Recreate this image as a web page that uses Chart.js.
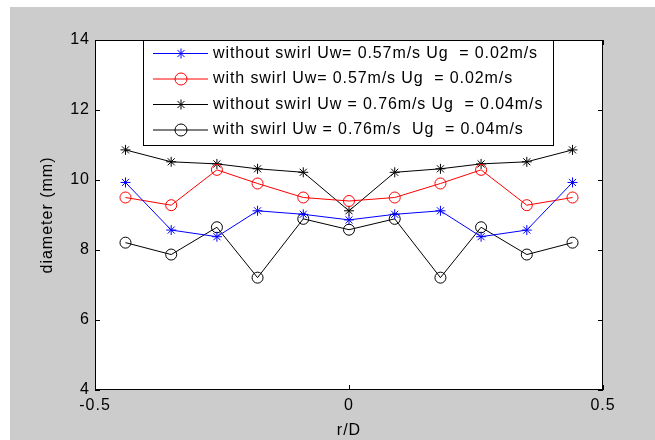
<!DOCTYPE html>
<html>
<head>
<meta charset="utf-8">
<script src="https://cdn.jsdelivr.net/npm/chart.js@4/dist/chart.umd.min.js"></script>
<style>
  html, body { margin: 0; padding: 0; background: #ffffff; }
  canvas { display: block; }
</style>
</head>
<body>
<canvas id="c" width="655" height="440"></canvas>
<script>
// ---- data ----
const rD = [-0.44, -0.35, -0.26, -0.18, -0.09, 0, 0.09, 0.18, 0.26, 0.35, 0.44];
const noSwirl057 = [9.93, 8.57, 8.38, 9.12, 9.02, 8.86, 9.02, 9.12, 8.38, 8.57, 9.93];
const swirl057   = [9.50, 9.28, 10.29, 9.90, 9.50, 9.40, 9.50, 9.90, 10.29, 9.28, 9.50];
const noSwirl076 = [10.86, 10.52, 10.46, 10.32, 10.22, 9.12, 10.22, 10.32, 10.46, 10.52, 10.86];
const swirl076   = [8.21, 7.87, 8.65, 7.21, 8.89, 8.58, 8.89, 7.21, 8.65, 7.87, 8.21];
const seriesLabels = [
  "without swirl Uw= 0.57m/s Ug  = 0.02m/s",
  "with swirl Uw= 0.57m/s Ug  = 0.02m/s",
  "without swirl Uw = 0.76m/s Ug  = 0.04m/s",
  "with swirl Uw = 0.76m/s  Ug  = 0.04m/s"
];
const xTicks = [-0.5, 0, 0.5];
const yTicks = [4, 6, 8, 10, 12, 14];
const xTitle = "r/D";
const yTitle = "diameter (mm)";

const FONT = "Liberation Sans, Arial, Helvetica, sans-serif";
const pts = vals => rD.map((x, i) => ({ x: x, y: vals[i] }));

function ds(label, vals, color, style, radius) {
  return {
    label: label, data: pts(vals),
    borderColor: color, backgroundColor: 'rgba(0,0,0,0)',
    borderWidth: 1, pointStyle: style, pointRadius: radius,
    pointBorderColor: color, pointBackgroundColor: 'rgba(0,0,0,0)',
    pointBorderWidth: 1, tension: 0, fill: false
  };
}

const matlabPlugin = {
  id: 'matlab',
  beforeDraw(chart) {
    const ctx = chart.ctx, a = chart.chartArea;
    ctx.letterSpacing = '1px';
    ctx.save();
    ctx.fillStyle = '#ffffff';
    ctx.fillRect(0, 0, chart.width, chart.height);
    ctx.fillStyle = '#cccccc';
    ctx.fillRect(10, 7, chart.width - 10, chart.height - 7);
    ctx.fillStyle = '#ffffff';
    ctx.fillRect(a.left, a.top, a.right - a.left, a.bottom - a.top);
    ctx.restore();
  },
  afterDatasetsDraw(chart) {
    const ctx = chart.ctx, a = chart.chartArea;
    const xs = chart.scales.x, ys = chart.scales.y;
    ctx.save();
    ctx.strokeStyle = '#000000';
    ctx.lineWidth = 1;
    // box
    ctx.strokeRect(a.left + 0.5, a.top + 0.5, a.right - a.left - 1, a.bottom - a.top - 1);
    // inward ticks
    const tl = 5;
    ctx.beginPath();
    xs.ticks.forEach(t => {
      const px = Math.round(xs.getPixelForValue(t.value)) + 0.5;
      ctx.moveTo(px, a.bottom); ctx.lineTo(px, a.bottom - tl);
      ctx.moveTo(px, a.top); ctx.lineTo(px, a.top + tl);
    });
    ys.ticks.forEach(t => {
      const py = Math.round(ys.getPixelForValue(t.value)) + 0.5;
      ctx.moveTo(a.left, py); ctx.lineTo(a.left + tl, py);
      ctx.moveTo(a.right, py); ctx.lineTo(a.right - tl, py);
    });
    ctx.stroke();

    // legend
    const L = 143, T = 40, R = 554, B = 146;
    ctx.fillStyle = '#ffffff';
    ctx.fillRect(L, T, R - L, B - T);
    ctx.strokeRect(L + 0.5, T + 0.5, R - L - 1, B - T - 1);
    const rowY = [53.5, 79, 104.5, 130];
    chart.data.datasets.forEach((d, i) => {
      const y = rowY[i];
      ctx.strokeStyle = d.borderColor;
      ctx.lineWidth = 1;
      ctx.beginPath();
      ctx.moveTo(153, y); ctx.lineTo(208, y);
      ctx.stroke();
      ctx.fillStyle = 'rgba(0,0,0,0)';
      ctx.strokeStyle = d.borderColor;
      Chart.helpers.drawPoint(ctx, {
        pointStyle: d.pointStyle, radius: d.pointStyle === 'circle' ? 6 : 5,
        rotation: 0, borderWidth: 1
      }, 181, y);
      ctx.fillStyle = '#000000';
      ctx.font = '16px ' + FONT;
      ctx.letterSpacing = '0.9px';
      ctx.textAlign = 'left';
      ctx.textBaseline = 'middle';
      ctx.fillText(d.label, 213, y);
    });
    ctx.restore();
  }
};

new Chart(document.getElementById('c'), {
  type: 'line',
  data: {
    datasets: [
      ds(seriesLabels[0], noSwirl057, '#0000ff', 'star', 5),
      ds(seriesLabels[1], swirl057, '#ff0000', 'circle', 5.5),
      ds(seriesLabels[2], noSwirl076, '#000000', 'star', 5),
      ds(seriesLabels[3], swirl076, '#000000', 'circle', 5.5)
    ]
  },
  options: {
    responsive: false,
    animation: false,
    devicePixelRatio: 1,
    layout: { padding: { left: 0, top: 40, right: 52, bottom: 0 } },
    plugins: { legend: { display: false }, tooltip: { enabled: false } },
    scales: {
      x: {
        type: 'linear', min: -0.5, max: 0.5,
        afterFit: s => { s.height = 50; },
        afterBuildTicks: s => { s.ticks = xTicks.map(v => ({ value: v })); },
        grid: { display: false, drawTicks: false },
        border: { display: false },
        ticks: { color: '#000', padding: 6, maxRotation: 0, font: { family: FONT, size: 16 },
                 callback: v => String(v) },
        title: { display: true, text: xTitle, color: '#000', font: { family: FONT, size: 16 },
                 padding: { top: 0, bottom: 0 } }
      },
      y: {
        type: 'linear', min: 4, max: 14,
        afterFit: s => { s.width = 95; },
        afterBuildTicks: s => { s.ticks = yTicks.map(v => ({ value: v })); },
        grid: { display: false, drawTicks: false },
        border: { display: false },
        ticks: { color: '#000', padding: 5, font: { family: FONT, size: 16 },
                 callback: v => String(v) },
        title: { display: true, text: yTitle, color: '#000', font: { family: FONT, size: 16 },
                 padding: { top: 38, bottom: 0 } }
      }
    }
  },
  plugins: [matlabPlugin]
});
</script>
</body>
</html>
